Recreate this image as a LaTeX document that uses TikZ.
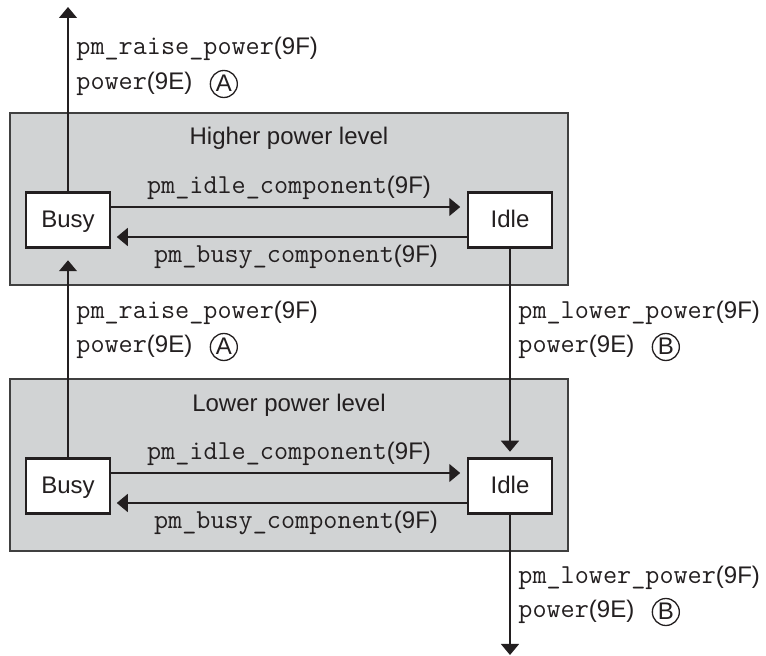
\documentclass[tikz,border=0pt]{standalone}
\usepackage{fontspec}
\setsansfont{Liberation Sans}
\usetikzlibrary{positioning}
\usetikzlibrary{arrows.meta}
\definecolor{lvlGray}{HTML}{D1D3D4}
\definecolor{lvlEdge}{HTML}{404040}
\definecolor{dInk}{HTML}{231F20}
\newcommand{\fcall}[2]{{\fontsize{13.7}{14}\selectfont\ttfamily #1}(#2)}

\begin{document}
\begin{tikzpicture}[
    x=0.5pt, y=-0.5pt,
    every node/.style = {font=\sffamily\fontsize{12}{14}\selectfont, text=dInk},
    level/.style = {draw=lvlEdge, fill=lvlGray, line width=0.85pt, minimum width=279pt, minimum height=86pt, inner sep=0pt},
    state/.style = {draw=dInk, fill=white, line width=1.35pt, minimum width=42pt, minimum height=27.5pt, inner sep=0pt, text height=0.72em, text depth=0pt},
    flow/.style = {draw=dInk, line width=0.65pt, -{Triangle[length=5.5pt, width=9pt]}},
    call/.style = {anchor=west, inner sep=0pt},
    badge/.style = {draw=dInk, circle, line width=0.65pt, minimum size=13.5pt, inner sep=0pt, text height=0.72em, text depth=0pt},
  ]
  \useasboundingbox (0,0) rectangle (766,656);

  % power levels
  \node[level] (levelHi) at (289,199) {};
  \node[level] (levelLo) at (289,465) {};
  \node (titleHi) at (289,138) {Higher power level};
  \node (titleLo) at (289,405) {Lower power level};

  % states
  \node[state] (busyHi) at (68,220) {Busy};
  \node[state] (idleHi) at (510,220) {Idle};
  \node[state] (busyLo) at (68,486) {Busy};
  \node[state] (idleLo) at (510,486) {Idle};

  \coordinate (topEnd) at (68,7);
  \coordinate (botEnd) at (510,655);

  % busy <-> idle
  \draw[flow, shorten >=3.2pt] ([yshift=6.5pt]busyHi.east) -- ([yshift=6.5pt]idleHi.west)
    node[midway, yshift=9.5pt] (idleCallHi) {\fcall{pm\_idle\_component}{9F}};
  \draw[flow, shorten >=2.7pt] ([yshift=-8.5pt]idleHi.west) -- ([yshift=-8.5pt]busyHi.east)
    node[midway, yshift=-10pt, xshift=3.5pt] (busyCallHi) {\fcall{pm\_busy\_component}{9F}};
  \draw[flow, shorten >=3.2pt] ([yshift=6.5pt]busyLo.east) -- ([yshift=6.5pt]idleLo.west)
    node[midway, yshift=9.5pt] (idleCallLo) {\fcall{pm\_idle\_component}{9F}};
  \draw[flow, shorten >=2.7pt] ([yshift=-8.5pt]idleLo.west) -- ([yshift=-8.5pt]busyLo.east)
    node[midway, yshift=-10pt, xshift=3.5pt] (busyCallLo) {\fcall{pm\_busy\_component}{9F}};

  % level -> level
  \draw[flow] (busyHi.north) -- (topEnd);
  \draw[flow, shorten >=5.7pt] (busyLo.north) -- (busyHi.south);
  \draw[flow, shorten >=2.7pt] (idleHi.south) -- (idleLo.north);
  \draw[flow] (idleLo.south) -- (botEnd);

  % raise labels
  \node[call] (raiseTop1) at (76,49) {\fcall{pm\_raise\_power}{9F}};
  \node[call] (raiseTop2) at (76,84) {\fcall{power}{9E}};
  \node[badge, right=8.5pt of raiseTop2] (badgeA1) {A};
  \node[call] (raiseMid1) at (76,313) {\fcall{pm\_raise\_power}{9F}};
  \node[call] (raiseMid2) at (76,347) {\fcall{power}{9E}};
  \node[badge, right=8.5pt of raiseMid2] (badgeA2) {A};

  % lower labels
  \node[call] (lowerMid1) at (518,313) {\fcall{pm\_lower\_power}{9F}};
  \node[call] (lowerMid2) at (518,347) {\fcall{power}{9E}};
  \node[badge, right=8.5pt of lowerMid2] (badgeB1) {B};
  \node[call] (lowerBot1) at (518,578) {\fcall{pm\_lower\_power}{9F}};
  \node[call] (lowerBot2) at (518,612) {\fcall{power}{9E}};
  \node[badge, right=8.5pt of lowerBot2] (badgeB2) {B};

\end{tikzpicture}
\end{document}
